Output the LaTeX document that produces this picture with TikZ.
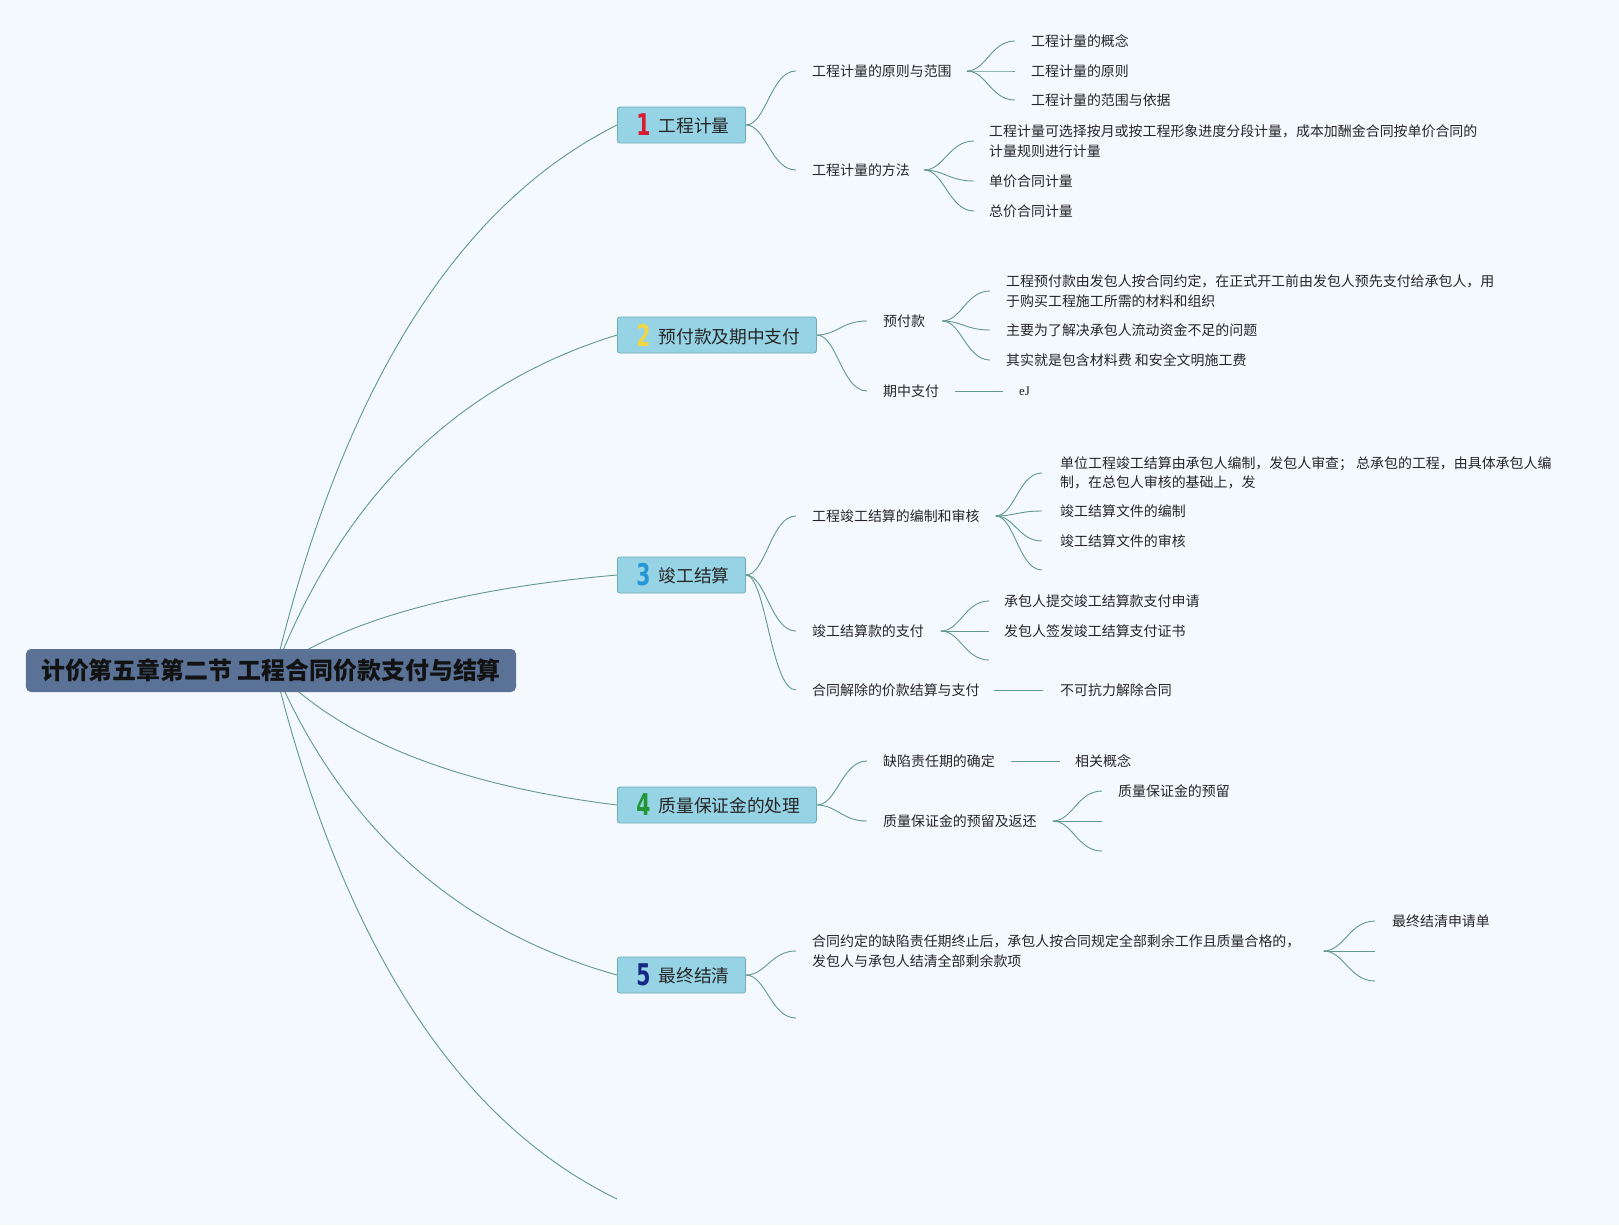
\documentclass[tikz,border=0pt]{standalone}
\usepackage{fontspec}
\usepackage{graphicx}
\setmainfont{Noto Sans CJK SC}
\newfontfamily\numfont{DejaVu Sans}
\newfontfamily\serifen{Liberation Serif}
\usetikzlibrary{calc,backgrounds}
\definecolor{bgc}{RGB}{244,249,254}
\definecolor{linec}{RGB}{98,152,142}
\definecolor{boxfill}{RGB}{150,211,228}
\definecolor{boxdraw}{RGB}{112,172,184}
\definecolor{rootfill}{RGB}{90,114,150}
\definecolor{roottxt}{RGB}{18,18,18}
\definecolor{txt}{RGB}{38,38,38}
\definecolor{n1}{RGB}{214,30,48}
\definecolor{n2}{RGB}{240,214,70}
\definecolor{n3}{RGB}{36,150,214}
\definecolor{n4}{RGB}{34,150,50}
\definecolor{n5}{RGB}{22,40,130}
\newcommand{\mknum}[2]{\hspace*{19bp}\raisebox{-3bp}{\scalebox{0.68}[1]{\numfont\bfseries\fontsize{30}{30}\selectfont\color{#1}#2}}\hspace*{8bp}}
\begin{document}
\begin{tikzpicture}[x=1bp,y=-1bp,
  conn/.style={draw=linec,line width=0.9bp},
  rootcurve/.style={conn,to path={let \p1=(\tikztostart),\p2=(\tikztotarget) in .. controls ({\x1+0.2*(\x2-\x1)},{\y1+0.52*(\y2-\y1)}) and ({\x2-0.4667*(\x2-\x1)},{\y2-0.1467*(\y2-\y1)}) .. (\tikztotarget)}},
  scurve/.style={conn,to path={let \p1=(\tikztostart),\p2=(\tikztotarget) in .. controls ({\x1+0.4*(\x2-\x1)},\y1) and ({\x1+0.5*(\x2-\x1)},\y2) .. (\tikztotarget)}},
  root/.style={fill=rootfill,rounded corners=5bp,minimum width=490bp,minimum height=43bp,inner sep=0pt,text=roottxt,font=\fontsize{24}{24}\selectfont\bfseries},
  mainbox/.style={draw=boxdraw,fill=boxfill,rounded corners=2.5bp,line width=0.8bp,minimum height=36bp,inner xsep=0pt,inner ysep=0pt,anchor=west,text=txt,font=\fontsize{17.8}{20}\selectfont},
  lbl/.style={inner sep=0pt,anchor=west,text=txt,font=\fontsize{14}{19.5}\selectfont,align=left}
]
\useasboundingbox (0,0) rectangle (1619,1225);
% root
\node[root] (root) at (271,670.5) {计价第五章第二节 工程合同价款支付与结算};
\coordinate (o) at (275,670);
% main boxes
\node[mainbox] (b1) at (617,125) {\mknum{n1}{1}工程计量\hspace*{16bp}};
\node[mainbox] (b2) at (617,335) {\mknum{n2}{2}预付款及期中支付\hspace*{16bp}};
\node[mainbox] (b3) at (617,575) {\mknum{n3}{3}竣工结算\hspace*{16bp}};
\node[mainbox] (b4) at (617,805) {\mknum{n4}{4}质量保证金的处理\hspace*{16bp}};
\node[mainbox] (b5) at (617,975) {\mknum{n5}{5}最终结清\hspace*{16bp}};
\coordinate (r6) at (617,1199);
% level 2
\node[lbl] (t1a) at (812,71) {工程计量的原则与范围};
\node[lbl] (t1b) at (812,170) {工程计量的方法};
\node[lbl] (t2a) at (883,321) {预付款};
\node[lbl] (t2b) at (883,391) {期中支付};
\node[lbl] (t3a) at (812,516) {工程竣工结算的编制和审核};
\node[lbl] (t3b) at (812,631) {竣工结算款的支付};
\node[lbl] (t3c) at (812,690) {合同解除的价款结算与支付};
\node[lbl] (t4a) at (883,761) {缺陷责任期的确定};
\node[lbl] (t4b) at (883,821) {质量保证金的预留及返还};
\node[lbl] (t5a) at (812,951) {合同约定的缺陷责任期终止后，承包人按合同规定全部剩余工作且质量合格的，\\发包人与承包人结清全部剩余款项};
\coordinate (e5b) at (796,1018);
% level 3
\node[lbl] (t1a1) at (1031,41) {工程计量的概念};
\node[lbl] (t1a2) at (1031,71) {工程计量的原则};
\node[lbl] (t1a3) at (1031,100) {工程计量的范围与依据};
\node[lbl] (t1b1) at (989,141) {工程计量可选择按月或按工程形象进度分段计量，成本加酬金合同按单价合同的\\计量规则进行计量};
\node[lbl] (t1b2) at (989,181) {单价合同计量};
\node[lbl] (t1b3) at (989,211) {总价合同计量};
\node[lbl] (t2a1) at (1006,291) {工程预付款由发包人按合同约定，在正式开工前由发包人预先支付给承包人，用\\于购买工程施工所需的材料和组织};
\node[lbl] (t2a2) at (1006,330) {主要为了解决承包人流动资金不足的问题};
\node[lbl] (t2a3) at (1006,360) {其实就是包含材料费 和安全文明施工费};
\node[lbl,font=\serifen\fontsize{13}{15}\selectfont] (t2b1) at (1019,391) {eJ};
\node[lbl] (t3a1) at (1060,473) {单位工程竣工结算由承包人编制，发包人审查； 总承包的工程，由具体承包人编\\制，在总包人审核的基础上，发};
\node[lbl] (t3a2) at (1060,511) {竣工结算文件的编制};
\node[lbl] (t3a3) at (1060,541) {竣工结算文件的审核};
\coordinate (e3a4) at (1042,570);
\node[lbl] (t3b1) at (1004,601) {承包人提交竣工结算款支付申请};
\node[lbl] (t3b2) at (1004,631) {发包人签发竣工结算支付证书};
\coordinate (e3b3) at (989,660);
\node[lbl] (t3c1) at (1060,690) {不可抗力解除合同};
\node[lbl] (t4a1) at (1075,761) {相关概念};
\node[lbl] (t4b1) at (1118,791) {质量保证金的预留};
\coordinate (e4b2) at (1102,821);
\coordinate (e4b3) at (1102,851);
\node[lbl] (t5a1) at (1392,921) {最终结清申请单};
\coordinate (e5a2) at (1375,951);
\coordinate (e5a3) at (1375,981);
\begin{pgfonlayer}{background}
\fill[bgc] (0,0) rectangle (1619,1225);
% root branches
\draw[rootcurve] (o) to (b1.west);
\draw[rootcurve] (o) to (b2.west);
\draw[rootcurve] (o) to (b3.west);
\draw[rootcurve] (o) to (b4.west);
\draw[rootcurve] (o) to (b5.west);
\draw[rootcurve] (o) to (r6);
% box -> level 2
\draw[scurve] (b1.east) to ([xshift=-16bp]t1a.west);
\draw[scurve] (b1.east) to ([xshift=-16bp]t1b.west);
\draw[scurve] (b2.east) to ([xshift=-16bp]t2a.west);
\draw[scurve] (b2.east) to ([xshift=-16bp]t2b.west);
\draw[scurve] (b3.east) to ([xshift=-16bp]t3a.west);
\draw[scurve] (b3.east) to ([xshift=-16bp]t3b.west);
\draw[scurve] (b3.east) to ([xshift=-16bp]t3c.west);
\draw[scurve] (b4.east) to ([xshift=-16bp]t4a.west);
\draw[scurve] (b4.east) to ([xshift=-16bp]t4b.west);
\draw[scurve] (b5.east) to ([xshift=-16bp]t5a.west);
\draw[scurve] (b5.east) to (e5b);
% level 2 -> level 3
\draw[scurve] ([xshift=15bp]t1a.east) to ([xshift=-16bp]t1a1.west);
\draw[scurve] ([xshift=15bp]t1a.east) to ([xshift=-16bp]t1a2.west);
\draw[scurve] ([xshift=15bp]t1a.east) to ([xshift=-16bp]t1a3.west);
\draw[scurve] ([xshift=14bp]t1b.east) to ([xshift=-15bp]t1b1.west);
\draw[scurve] ([xshift=14bp]t1b.east) to ([xshift=-15bp]t1b2.west);
\draw[scurve] ([xshift=14bp]t1b.east) to ([xshift=-15bp]t1b3.west);
\draw[scurve] ([xshift=17bp]t2a.east) to ([xshift=-16bp]t2a1.west);
\draw[scurve] ([xshift=17bp]t2a.east) to ([xshift=-16bp]t2a2.west);
\draw[scurve] ([xshift=17bp]t2a.east) to ([xshift=-16bp]t2a3.west);
\draw[conn] ([xshift=16bp]t2b.east) -- ([xshift=-16bp]t2b1.west);
\draw[scurve] ([xshift=16bp]t3a.east) to ([xshift=-18bp]t3a1.west);
\draw[scurve] ([xshift=16bp]t3a.east) to ([xshift=-18bp]t3a2.west);
\draw[scurve] ([xshift=16bp]t3a.east) to ([xshift=-18bp]t3a3.west);
\draw[scurve] ([xshift=16bp]t3a.east) to (e3a4);
\draw[scurve] ([xshift=17bp]t3b.east) to ([xshift=-15bp]t3b1.west);
\draw[scurve] ([xshift=17bp]t3b.east) to ([xshift=-15bp]t3b2.west);
\draw[scurve] ([xshift=17bp]t3b.east) to (e3b3);
\draw[conn] ([xshift=14bp]t3c.east) -- ([xshift=-17bp]t3c1.west);
\draw[conn] ([xshift=16bp]t4a.east) -- ([xshift=-15bp]t4a1.west);
\draw[scurve] ([xshift=16bp]t4b.east) to ([xshift=-16bp]t4b1.west);
\draw[scurve] ([xshift=16bp]t4b.east) to (e4b2);
\draw[scurve] ([xshift=16bp]t4b.east) to (e4b3);
\draw[scurve] ([xshift=23bp]t5a.east) to ([xshift=-17bp]t5a1.west);
\draw[scurve] ([xshift=23bp]t5a.east) to (e5a2);
\draw[scurve] ([xshift=23bp]t5a.east) to (e5a3);
\end{pgfonlayer}
\end{tikzpicture}
\end{document}
